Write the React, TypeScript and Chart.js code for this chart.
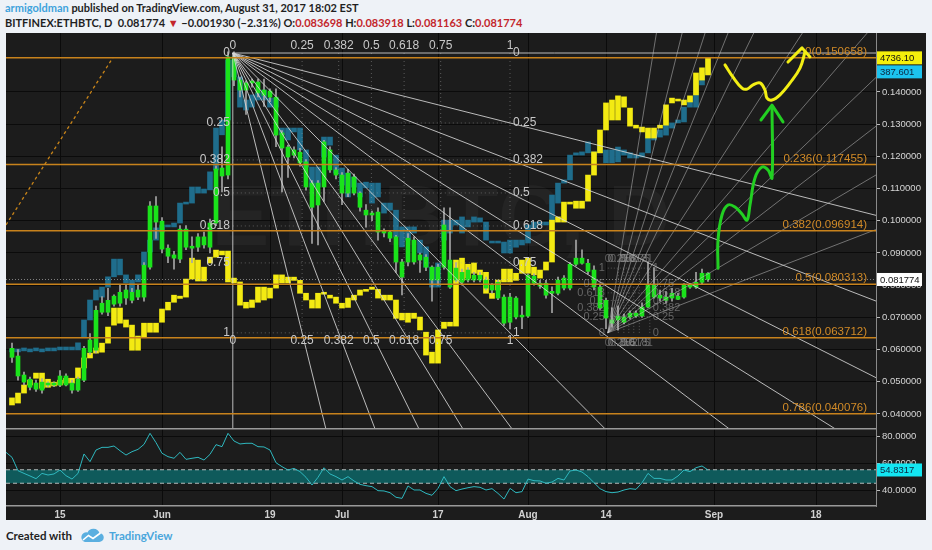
import React, { useEffect, useRef } from 'react';
import { Chart, registerables } from 'chart.js';
Chart.register(...registerables);

const FONT = '"Liberation Sans", Arial, sans-serif';

// ---- x axis: day index, 0 = May 7 2017 (daily candles up to Aug 31 = 116)
const xMin = -1;
const xMax = 144;
const xTickDays = [8, 25, 43, 55, 71, 86, 99, 117, 134];
const xTickLabels = ['15', 'Jun', '19', 'Jul', '17', 'Aug', '14', 'Sep', '18'];

// ---- price axis
const priceMin = 0.03565;
const priceMax = 0.15832;
const priceTicks = [0.04, 0.05, 0.06, 0.07, 0.08, 0.09, 0.1, 0.11, 0.12, 0.13, 0.14];

// ---- ETHBTC candles (green)
const ethbtcBodyHi = [
  0.0604, 0.0580, 0.0521, 0.0508, 0.0496, 0.0499, 0.0496, 0.0496, 0.0518, 0.0518,
  0.0496, 0.0508, 0.0604, 0.0630, 0.0722, 0.0744, 0.0753, 0.0766, 0.0778, 0.0785,
  0.0778, 0.0785, 0.0862, 0.1046, 0.1046, 0.0999, 0.0915, 0.0894, 0.0974, 0.0974,
  0.0921, 0.0950, 0.0950, 0.0993, 0.1161, 0.1164, 0.1509, 0.1509, 0.1437, 0.1428,
  0.1434, 0.1431, 0.1406, 0.1403, 0.1384, 0.1273, 0.1229, 0.1220, 0.1213, 0.1183,
  0.1117, 0.1117, 0.1245, 0.1220, 0.1158, 0.1142, 0.1148, 0.1136, 0.1086, 0.1033,
  0.1024, 0.1027, 0.0968, 0.0965, 0.0950, 0.0872, 0.0946, 0.0940, 0.0894, 0.0887,
  0.0856, 0.0856, 0.0987, 0.0878, 0.0853, 0.0840, 0.0847, 0.0831, 0.0831, 0.0816,
  0.0800, 0.0809, 0.0763, 0.0763, 0.0760, 0.0707, 0.0831, 0.0828, 0.0806, 0.0806,
  0.0781, 0.0816, 0.0822, 0.0865, 0.0884, 0.0884, 0.0868, 0.0847, 0.0794, 0.0753,
  0.0692, 0.0704, 0.0701, 0.0713, 0.0713, 0.0732, 0.0800, 0.0800, 0.0769, 0.0763,
  0.0775, 0.0766, 0.0800, 0.0800, 0.0809, 0.0837, 0.083698,
];
const ethbtcBodyLo = [
  0.0576, 0.0518, 0.0499, 0.0483, 0.0477, 0.0474, 0.0490, 0.0490, 0.0490, 0.0490,
  0.0474, 0.0474, 0.0505, 0.0592, 0.0598, 0.0716, 0.0716, 0.0741, 0.0744, 0.0760,
  0.0753, 0.0763, 0.0763, 0.0856, 0.0996, 0.0912, 0.0890, 0.0884, 0.0881, 0.0918,
  0.0915, 0.0918, 0.0925, 0.0918, 0.0993, 0.1139, 0.1142, 0.1437, 0.1406, 0.1406,
  0.1428, 0.1397, 0.1390, 0.1384, 0.1266, 0.1226, 0.1198, 0.1204, 0.1180, 0.1105,
  0.1042, 0.1049, 0.1105, 0.1158, 0.1142, 0.1086, 0.1086, 0.1086, 0.1042, 0.1018,
  0.1018, 0.0965, 0.0962, 0.0946, 0.0872, 0.0825, 0.0872, 0.0872, 0.0878, 0.0856,
  0.0816, 0.0816, 0.0856, 0.0794, 0.0816, 0.0809, 0.0816, 0.0816, 0.0816, 0.0791,
  0.0785, 0.0760, 0.0682, 0.0685, 0.0701, 0.0701, 0.0704, 0.0806, 0.0797, 0.0769,
  0.0775, 0.0775, 0.0791, 0.0791, 0.0865, 0.0868, 0.0843, 0.0794, 0.0729, 0.0698,
  0.0682, 0.0692, 0.0685, 0.0701, 0.0704, 0.0704, 0.0732, 0.0763, 0.0760, 0.0753,
  0.0760, 0.0756, 0.0763, 0.0794, 0.0794, 0.0809, 0.081774,
];
const ethbtcHigh = [
  0.0620, 0.0600, 0.0530, 0.0515, 0.0505, 0.0510, 0.0500, 0.0500, 0.0535, 0.0525,
  0.0505, 0.0515, 0.0610, 0.0650, 0.0735, 0.0765, 0.0790, 0.0770, 0.0800, 0.0800,
  0.0790, 0.0800, 0.0870, 0.1060, 0.1075, 0.1010, 0.0925, 0.0905, 0.0985, 0.0985,
  0.0950, 0.0960, 0.0965, 0.1005, 0.1170, 0.1230, 0.1525, 0.1525, 0.1445, 0.1435,
  0.1440, 0.1440, 0.1440, 0.1410, 0.1410, 0.1280, 0.1235, 0.1230, 0.1225, 0.1190,
  0.1125, 0.1125, 0.1250, 0.1230, 0.1165, 0.1150, 0.1160, 0.1145, 0.1090, 0.1050,
  0.1030, 0.1040, 0.0975, 0.0970, 0.0955, 0.0880, 0.0960, 0.0950, 0.0900, 0.0895,
  0.0860, 0.0865, 0.1040, 0.1040, 0.0870, 0.0850, 0.0855, 0.0840, 0.0840, 0.0825,
  0.0805, 0.0815, 0.0770, 0.0775, 0.0765, 0.0735, 0.0835, 0.0835, 0.0815, 0.0815,
  0.0795, 0.0825, 0.0830, 0.0870, 0.0940, 0.0910, 0.0880, 0.0860, 0.0800, 0.0760,
  0.0730, 0.0735, 0.0710, 0.0720, 0.0720, 0.0745, 0.0870, 0.0855, 0.0785, 0.0780,
  0.0790, 0.0775, 0.0805, 0.0805, 0.0840, 0.0850, 0.083918,
];
const ethbtcLow = [
  0.0560, 0.0505, 0.0490, 0.0475, 0.0470, 0.0465, 0.0485, 0.0485, 0.0485, 0.0487,
  0.0465, 0.0470, 0.0500, 0.0585, 0.0590, 0.0710, 0.0705, 0.0735, 0.0735, 0.0740,
  0.0745, 0.0755, 0.0750, 0.0850, 0.0945, 0.0900, 0.0870, 0.0850, 0.0870, 0.0910,
  0.0870, 0.0905, 0.0915, 0.0900, 0.0985, 0.1090, 0.1130, 0.1420, 0.1385, 0.1330,
  0.1415, 0.1385, 0.1355, 0.1370, 0.1230, 0.1090, 0.1135, 0.1195, 0.1170, 0.1095,
  0.0930, 0.0925, 0.1060, 0.1150, 0.1130, 0.1050, 0.1075, 0.1080, 0.1030, 0.0980,
  0.1000, 0.0940, 0.0950, 0.0935, 0.0840, 0.0770, 0.0860, 0.0865, 0.0840, 0.0845,
  0.0750, 0.0800, 0.0850, 0.0790, 0.0810, 0.0800, 0.0810, 0.0810, 0.0810, 0.0785,
  0.0775, 0.0755, 0.0675, 0.0665, 0.0695, 0.0665, 0.0700, 0.0800, 0.0790, 0.0760,
  0.0715, 0.0770, 0.0785, 0.0785, 0.0860, 0.0865, 0.0835, 0.0785, 0.0725, 0.0665,
  0.0670, 0.0660, 0.0680, 0.0695, 0.0700, 0.0700, 0.0730, 0.0760, 0.0750, 0.0745,
  0.0750, 0.0755, 0.0760, 0.0790, 0.0790, 0.0805, 0.081163,
];

// ---- ETHUSD overlay (teal), in the price axis units
const ethusdBodyHi = [
  0.0602, 0.0602, 0.0605, 0.0602, 0.0605, 0.0602, 0.0605, 0.0605, 0.0608, 0.0608,
  0.0608, 0.0621, 0.0692, 0.0754, 0.0785, 0.0794, 0.0826, 0.0881, 0.0881, 0.0832,
  0.0816, 0.0832, 0.0903, 0.0940, 0.0978, 0.0987, 0.0987, 0.0993, 0.1055, 0.1058,
  0.1105, 0.1105, 0.1099, 0.1152, 0.1288, 0.1313, 0.1499, 0.1499, 0.1447, 0.1375,
  0.1391, 0.1397, 0.1406, 0.1381, 0.1381, 0.1288, 0.1288, 0.1288, 0.1288, 0.1220,
  0.1167, 0.1167, 0.1260, 0.1260, 0.1204, 0.1164, 0.1148, 0.1136, 0.1117, 0.1120,
  0.1117, 0.1117, 0.1055, 0.1055, 0.1033, 0.0981, 0.0981, 0.0981, 0.0940, 0.0919,
  0.0856, 0.0869, 0.1002, 0.1002, 0.1002, 0.1012, 0.1002, 0.1012, 0.1009, 0.0996,
  0.0937, 0.0937, 0.0934, 0.0940, 0.0940, 0.0940, 0.0987, 0.0996, 0.0996, 0.0996,
  0.1080, 0.1117, 0.1127, 0.1204, 0.1211, 0.1214, 0.1245, 0.1214, 0.1235, 0.1220,
  0.1220, 0.1229, 0.1220, 0.1211, 0.1204, 0.1211, 0.1273, 0.1282, 0.1282, 0.1297,
  0.1304, 0.1313, 0.1353, 0.1384, 0.1437, 0.1459, 0.1475,
];
const ethusdBodyLo = [
  0.0593, 0.0593, 0.0596, 0.0593, 0.0596, 0.0593, 0.0596, 0.0596, 0.0599, 0.0599,
  0.0599, 0.0599, 0.0639, 0.0692, 0.0754, 0.0763, 0.0794, 0.0826, 0.0832, 0.0807,
  0.0779, 0.0810, 0.0863, 0.0903, 0.0940, 0.0965, 0.0981, 0.0981, 0.0993, 0.1052,
  0.1055, 0.1086, 0.1086, 0.1096, 0.1158, 0.1267, 0.1313, 0.1447, 0.1353, 0.1344,
  0.1353, 0.1375, 0.1375, 0.1353, 0.1353, 0.1267, 0.1251, 0.1276, 0.1220, 0.1167,
  0.1105, 0.1105, 0.1198, 0.1235, 0.1148, 0.1111, 0.1074, 0.1105, 0.1074, 0.1102,
  0.1055, 0.1074, 0.1024, 0.1033, 0.0950, 0.0919, 0.0940, 0.0962, 0.0900, 0.0856,
  0.0794, 0.0794, 0.0940, 0.0962, 0.0987, 0.0962, 0.0981, 0.0996, 0.0996, 0.0940,
  0.0931, 0.0931, 0.0900, 0.0900, 0.0918, 0.0925, 0.0931, 0.0978, 0.0987, 0.0987,
  0.0996, 0.1055, 0.1117, 0.1127, 0.1204, 0.1204, 0.1211, 0.1204, 0.1211, 0.1180,
  0.1180, 0.1183, 0.1204, 0.1195, 0.1195, 0.1198, 0.1211, 0.1251, 0.1260, 0.1266,
  0.1288, 0.1304, 0.1307, 0.1353, 0.1353, 0.1422, 0.1459,
];

// ---- BTCUSD overlay (yellow), in the price axis units
const btcusdBodyHi = [
  0.0450, 0.0465, 0.0490, 0.0505, 0.0527, 0.0527, 0.0508, 0.0499, 0.0505, 0.0511,
  0.0511, 0.0543, 0.0574, 0.0589, 0.0605, 0.0620, 0.0670, 0.0729, 0.0729, 0.0692,
  0.0676, 0.0642, 0.0682, 0.0682, 0.0682, 0.0726, 0.0747, 0.0769, 0.0766, 0.0819,
  0.0884, 0.0878, 0.0856, 0.0887, 0.0909, 0.0906, 0.0906, 0.0822, 0.0810, 0.0747,
  0.0754, 0.0794, 0.0794, 0.0791, 0.0832, 0.0832, 0.0825, 0.0825, 0.0815, 0.0775,
  0.0754, 0.0775, 0.0778, 0.0769, 0.0763, 0.0744, 0.0760, 0.0769, 0.0785, 0.0787,
  0.0794, 0.0787, 0.0769, 0.0769, 0.0754, 0.0713, 0.0713, 0.0713, 0.0701, 0.0654,
  0.0592, 0.0661, 0.0685, 0.0685, 0.0878, 0.0884, 0.0865, 0.0869, 0.0847, 0.0840,
  0.0775, 0.0816, 0.0850, 0.0850, 0.0837, 0.0878, 0.0884, 0.0856, 0.0847, 0.0872,
  0.1002, 0.1012, 0.1058, 0.1058, 0.1061, 0.1061, 0.1142, 0.1214, 0.1282, 0.1366,
  0.1375, 0.1388, 0.1385, 0.1350, 0.1297, 0.1291, 0.1288, 0.1288, 0.1297, 0.1360,
  0.1381, 0.1378, 0.1375, 0.1388, 0.1459, 0.1475, 0.1506,
];
const btcusdBodyLo = [
  0.0428, 0.0434, 0.0465, 0.0490, 0.0511, 0.0480, 0.0483, 0.0487, 0.0490, 0.0496,
  0.0496, 0.0511, 0.0543, 0.0574, 0.0589, 0.0592, 0.0620, 0.0676, 0.0682, 0.0670,
  0.0598, 0.0598, 0.0639, 0.0654, 0.0654, 0.0685, 0.0723, 0.0747, 0.0759, 0.0763,
  0.0819, 0.0813, 0.0813, 0.0869, 0.0887, 0.0894, 0.0810, 0.0807, 0.0738, 0.0729,
  0.0731, 0.0747, 0.0754, 0.0760, 0.0791, 0.0807, 0.0807, 0.0815, 0.0775, 0.0754,
  0.0729, 0.0729, 0.0772, 0.0760, 0.0744, 0.0729, 0.0731, 0.0754, 0.0769, 0.0781,
  0.0787, 0.0760, 0.0754, 0.0754, 0.0697, 0.0692, 0.0685, 0.0697, 0.0661, 0.0583,
  0.0558, 0.0558, 0.0666, 0.0673, 0.0673, 0.0815, 0.0822, 0.0837, 0.0832, 0.0775,
  0.0759, 0.0785, 0.0810, 0.0810, 0.0815, 0.0837, 0.0837, 0.0832, 0.0822, 0.0847,
  0.0872, 0.0996, 0.0996, 0.1052, 0.1039, 0.1039, 0.1061, 0.1142, 0.1211, 0.1282,
  0.1313, 0.1313, 0.1353, 0.1294, 0.1288, 0.1276, 0.1257, 0.1257, 0.1288, 0.1297,
  0.1366, 0.1372, 0.1360, 0.1369, 0.1391, 0.1437, 0.1453,
];

// ---- RSI (starts at day -1)
const rsiStartDay = -1;
const rsiValues = [
  67.9,
  64.2, 54.3, 52.3, 50.4, 48.4, 52.3, 51.1, 51.9, 54.8, 50.6,
  48.1, 52.3, 66.7, 61.0, 69.6, 71.6, 71.6, 72.6, 69.1, 65.9,
  68.4, 70.1, 73.8, 82.0, 75.1, 67.2, 64.7, 63.5, 67.9, 62.7,
  63.5, 64.2, 62.2, 66.4, 73.6, 72.1, 82.0, 76.3, 74.1, 74.6,
  74.6, 72.1, 71.9, 69.6, 60.2, 57.3, 54.8, 56.0, 53.6, 49.4,
  43.7, 49.4, 56.5, 51.9, 49.9, 47.4, 49.9, 46.7, 44.2, 43.2,
  42.5, 39.5, 39.3, 38.0, 34.6, 33.8, 43.0, 40.0, 40.0, 37.5,
  36.1, 41.2, 49.9, 42.5, 39.5, 40.7, 41.7, 42.5, 42.0, 40.0,
  41.0, 37.5, 33.3, 41.2, 38.0, 38.8, 48.1, 46.9, 46.7, 45.0,
  45.9, 48.6, 47.4, 54.1, 54.8, 53.3, 49.9, 45.4, 41.0, 38.8,
  38.0, 38.5, 40.0, 41.0, 40.5, 45.4, 52.3, 48.6, 48.6, 47.4,
  47.4, 50.4, 54.8, 53.6, 56.5, 57.8, 54.8317,
];
const rsiMin = 28.15;
const rsiMax = 85.93;
const rsiTicks = [40, 60, 80];
const rsiBand = [45, 55];

// ---- Fibonacci retracement
const fibRatios = ['0', '0.236', '0.382', '0.5', '0.618', '0.786'];
const fibPrices = [0.150658, 0.117455, 0.096914, 0.080313, 0.063712, 0.040076];
const fibTrendDays = [-1, 16.8];
const fibTrendPrices = [0.0987, 0.1506];

// ---- Gann fans
const gannLevels = [0.25, 0.382, 0.5, 0.618, 0.75];
const gannLabels = ['0', '0.25', '0.382', '0.5', '0.618', '0.75', '1'];
const bigFanDays = [36.8, 83];
const bigFanPrices = [0.1521, 0.0652];
const smallFanDays = [99.3, 106.3];
const smallFanPrices = [0.0652, 0.0853];

// ---- hand-drawn arrows
const greenArrowDays = [117.67, 117.67, 118.33, 119.33, 120.5, 121.67, 122.5, 123, 123.83, 125, 126, 126.67, 126.67];
const greenArrowPrices = [0.0853, 0.094, 0.1018, 0.1049, 0.1043, 0.1021, 0.1002, 0.1049, 0.1133, 0.1167, 0.1158, 0.1133, 0.1353];
const greenHeadDays = [124.83, 126.67, 128.5];
const greenHeadPrices = [0.1313, 0.1359, 0.1307];
const yellowArrowDays = [118.83, 120.17, 121.67, 122.5, 123.5, 124.67, 125.5, 125.83, 126.67, 128, 129.67, 131.33, 132.17];
const yellowArrowPrices = [0.1484, 0.1446, 0.1412, 0.1409, 0.1422, 0.1428, 0.1406, 0.1381, 0.1375, 0.1391, 0.1428, 0.1474, 0.1524];
const yellowHeadDays = [129.33, 131.67, 133];
const yellowHeadPrices = [0.1493, 0.1537, 0.1509];

// ---- last value labels
const lastClose = 0.081774;
const btcusdLastText = '4736.10';
const ethusdLastText = '387.601';

const bars = (hi: number[], lo: number[]) => hi.map((h, i) => ({ x: i, y: [lo[i], h] }));
const pts = (xs: number[], ys: number[]) => xs.map((x, i) => ({ x, y: ys[i] }));

function seg(ctx: CanvasRenderingContext2D, x1: number, y1: number, x2: number, y2: number) {
  ctx.beginPath();
  ctx.moveTo(x1, y1);
  ctx.lineTo(x2, y2);
  ctx.stroke();
}

function drawBoxes(ctx: CanvasRenderingContext2D, left: number, items: any[]) {
  const h = 13;
  let prevBottom = -1e9;
  items.sort((a, b) => a.y - b.y).forEach((it) => {
    const top = Math.max(it.y - h / 2, prevBottom + 1);
    ctx.fillStyle = it.bg;
    ctx.fillRect(left + 1, top, 45, h);
    ctx.fillStyle = it.fg;
    ctx.font = `9.5px ${FONT}`;
    ctx.textAlign = 'left';
    ctx.textBaseline = 'middle';
    ctx.fillText(it.text, left + 4, top + h / 2 + 0.5);
    prevBottom = top + h;
  });
}

function drawAnnotations(chart: any) {
  const { ctx, chartArea: a } = chart;
  const X = (d: number) => chart.scales.x.getPixelForValue(d);
  const Y = (p: number) => chart.scales.y.getPixelForValue(p);
  ctx.save();
  ctx.beginPath();
  ctx.rect(a.left, a.top, a.right - a.left, a.bottom - a.top);
  ctx.clip();

  // last price dotted line
  ctx.lineWidth = 1;
  ctx.setLineDash([1, 2]);
  ctx.strokeStyle = 'rgba(200,200,200,0.6)';
  seg(ctx, a.left, Y(lastClose), a.right, Y(lastClose));

  // big gann fan
  const ox = X(bigFanDays[0]), oy = Y(bigFanPrices[0]);
  const ex = X(bigFanDays[1]), ey = Y(bigFanPrices[1]);
  const all = [...gannLevels, 1];
  ctx.setLineDash([1, 3]);
  ctx.strokeStyle = 'rgba(170,170,170,0.45)';
  all.forEach((f) => {
    const yy = oy + f * (ey - oy);
    seg(ctx, ox, yy, ex, yy);
    const xx = ox + f * (ex - ox);
    seg(ctx, xx, oy, xx, ey);
  });
  ctx.setLineDash([]);
  ctx.strokeStyle = 'rgba(215,215,215,0.85)';
  seg(ctx, ox, oy, ox, a.bottom);
  seg(ctx, ox, oy, a.right, oy);
  const fan = (sx: number, sy: number, tx: number, ty: number) =>
    seg(ctx, sx, sy, sx + (tx - sx) * 40, sy + (ty - sy) * 40);
  gannLevels.forEach((f) => {
    fan(ox, oy, ex, oy + f * (ey - oy));
    fan(ox, oy, ox + f * (ex - ox), ey);
  });
  fan(ox, oy, ex, ey);

  // small gann fan
  const sx = X(smallFanDays[0]), sy = Y(smallFanPrices[0]);
  const tx = X(smallFanDays[1]), ty = Y(smallFanPrices[1]);
  ctx.setLineDash([1, 2]);
  ctx.strokeStyle = 'rgba(160,160,160,0.45)';
  all.forEach((f) => {
    const yy = sy + f * (ty - sy);
    seg(ctx, sx, yy, tx, yy);
    const xx = sx + f * (tx - sx);
    seg(ctx, xx, sy, xx, ty);
  });
  ctx.setLineDash([]);
  ctx.strokeStyle = 'rgba(200,200,200,0.5)';
  gannLevels.forEach((f) => {
    fan(sx, sy, tx, sy + f * (ty - sy));
    fan(sx, sy, sx + f * (tx - sx), ty);
  });
  fan(sx, sy, tx, ty);

  // fib trend line (dotted)
  ctx.setLineDash([3, 3]);
  ctx.lineWidth = 1.3;
  ctx.strokeStyle = '#c98519';
  seg(ctx, X(fibTrendDays[0]), Y(fibTrendPrices[0]), X(fibTrendDays[1]), Y(fibTrendPrices[1]));

  // fib levels
  ctx.setLineDash([]);
  ctx.lineWidth = 1.5;
  ctx.strokeStyle = '#c8821c';
  fibPrices.forEach((p) => seg(ctx, a.left, Y(p), a.right, Y(p)));
  ctx.font = `11.5px ${FONT}`;
  ctx.fillStyle = '#d28b27';
  ctx.textAlign = 'right';
  ctx.textBaseline = 'alphabetic';
  fibPrices.forEach((p, i) => {
    ctx.fillText(`${fibRatios[i]}(${p.toFixed(6)})`, a.right - 9, Y(p) - 3);
  });

  // big gann labels
  ctx.font = `12px ${FONT}`;
  ctx.fillStyle = '#c9c9c9';
  ctx.textBaseline = 'middle';
  const lv = [0, ...gannLevels, 1];
  lv.forEach((f, i) => {
    const xx = ox + f * (ex - ox);
    const yy = oy + f * (ey - oy);
    ctx.textAlign = 'center';
    ctx.fillText(gannLabels[i], xx, oy - 7);
    ctx.fillText(gannLabels[i], xx, ey + 8);
    ctx.textAlign = 'right';
    ctx.fillText(gannLabels[i], ox - 3, yy);
    ctx.textAlign = 'left';
    ctx.fillText(gannLabels[i], ex + 3, yy);
  });

  // small gann labels (faint)
  ctx.font = `11px ${FONT}`;
  ctx.fillStyle = 'rgba(150,150,150,0.6)';
  lv.forEach((f, i) => {
    const xx = sx + f * (tx - sx);
    const yy = sy + f * (ty - sy);
    ctx.textAlign = 'center';
    ctx.fillText(gannLabels[i], xx, ty - 9);
    ctx.fillText(gannLabels[i], xx, sy + 10);
    ctx.textAlign = 'right';
    ctx.fillText(gannLabels[i], sx - 3, yy);
    ctx.textAlign = 'left';
    ctx.fillText(gannLabels[i], tx + 3, yy);
  });

  ctx.restore();
}

const mainOverlay = {
  id: 'mainOverlay',
  beforeDraw(chart: any) {
    chart.$annotated = false;
  },
  beforeDatasetsDraw(chart: any) {
    const { ctx, chartArea: a } = chart;
    ctx.save();
    ctx.fillStyle = 'rgba(255,255,255,0.035)';
    ctx.font = `bold 86px ${FONT}`;
    ctx.textAlign = 'center';
    ctx.textBaseline = 'middle';
    ctx.fillText('ETHBTC, D', (a.left + a.right) / 2, chart.scales.y.getPixelForValue(0.1));
    ctx.restore();
  },
  beforeDatasetDraw(chart: any, args: any) {
    const ds = chart.data.datasets[args.index];
    if (ds.isArrow && !chart.$annotated) {
      chart.$annotated = true;
      drawAnnotations(chart);
    }
  },
  afterDraw(chart: any) {
    const ys = chart.scales.y;
    const ctx = chart.ctx;
    ctx.save();
    drawBoxes(ctx, ys.left, [
      { y: ys.getPixelForValue(btcusdBodyHi[btcusdBodyHi.length - 1]), text: btcusdLastText, bg: '#f4ef0c', fg: '#111' },
      { y: ys.getPixelForValue(ethusdBodyHi[ethusdBodyHi.length - 1]), text: ethusdLastText, bg: '#1cc3ef', fg: '#0b2740' },
    ]);
    drawBoxes(ctx, ys.left, [
      { y: ys.getPixelForValue(lastClose), text: lastClose.toFixed(6), bg: '#ffffff', fg: '#111' },
    ]);
    ctx.restore();
  },
};

const rsiOverlay = {
  id: 'rsiOverlay',
  beforeDatasetsDraw(chart: any) {
    const { ctx, chartArea: a } = chart;
    const ys = chart.scales.y;
    const yHi = ys.getPixelForValue(rsiBand[1]);
    const yLo = ys.getPixelForValue(rsiBand[0]);
    ctx.save();
    ctx.fillStyle = '#0f5a5b';
    ctx.fillRect(a.left, yHi, a.right - a.left, yLo - yHi);
    ctx.strokeStyle = 'rgba(210,210,210,0.85)';
    ctx.lineWidth = 1;
    ctx.setLineDash([4, 3]);
    seg(ctx, a.left, yHi, a.right, yHi);
    seg(ctx, a.left, yLo, a.right, yLo);
    ctx.restore();
  },
  afterDraw(chart: any) {
    const { ctx, chartArea: a } = chart;
    const ys = chart.scales.y;
    ctx.save();
    ctx.strokeStyle = '#9a9a9a';
    ctx.lineWidth = 1.5;
    seg(ctx, a.left, 0.75, a.right, 0.75);
    const last = rsiValues[rsiValues.length - 1];
    drawBoxes(ctx, ys.left, [{ y: ys.getPixelForValue(last), text: last.toFixed(4), bg: '#13e6f2', fg: '#0b2740' }]);
    ctx.restore();
  },
};

const xScaleBase = (showLabels: boolean) => ({
  type: 'linear',
  min: xMin,
  max: xMax,
  offset: false,
  bounds: 'data',
  afterBuildTicks: (s: any) => {
    s.ticks = xTickDays.map((v) => ({ value: v }));
  },
  ticks: {
    display: showLabels,
    autoSkip: false,
    maxRotation: 0,
    color: '#d2d2d2',
    padding: 3,
    font: { family: FONT, size: 10, weight: 'bold' },
    callback: (_v: any, i: number) => xTickLabels[i],
  },
  grid: { color: '#0b0b0b', drawTicks: false, offset: false, lineWidth: 1 },
  border: { display: showLabels, color: '#9a9a9a', width: 1.5 },
  afterFit: (s: any) => {
    s.height = showLabels ? 14 : 0;
    s.paddingLeft = 0;
    s.paddingRight = 0;
  },
});

const yScaleBase = (min: number, max: number, ticks: number[], digits: number) => ({
  type: 'linear',
  position: 'right',
  min,
  max,
  bounds: 'data',
  afterBuildTicks: (s: any) => {
    s.ticks = ticks.map((v) => ({ value: v }));
  },
  ticks: {
    color: '#d6d6d6',
    padding: 2,
    font: { family: FONT, size: 9.5 },
    callback: (v: any) => Number(v).toFixed(digits),
  },
  grid: { color: '#0b0b0b', tickColor: '#bbbbbb', tickLength: 4, lineWidth: 1 },
  border: { display: true, color: '#8a8a8a', width: 1 },
  afterFit: (s: any) => {
    s.width = 50;
    s.paddingTop = 0;
    s.paddingBottom = 0;
  },
});

export default function App() {
  const mainRef = useRef<HTMLCanvasElement>(null);
  const rsiRef = useRef<HTMLCanvasElement>(null);

  useEffect(() => {
    const arrowLine = (data: any[], color: string, tension: number) => ({
      type: 'line',
      data,
      borderColor: color,
      borderWidth: 3,
      tension,
      pointRadius: 0,
      borderCapStyle: 'round',
      borderJoinStyle: 'round',
      order: 1,
      isArrow: true,
    });
    const main = new Chart(mainRef.current as HTMLCanvasElement, {
      type: 'bar',
      data: {
        datasets: [
          { type: 'bar', label: 'ETHUSD', data: bars(ethusdBodyHi, ethusdBodyLo), backgroundColor: '#1f6d8c', barThickness: 5, grouped: false, minBarLength: 1, order: 10 },
          { type: 'bar', label: 'BTCUSD', data: bars(btcusdBodyHi, btcusdBodyLo), backgroundColor: '#f3ea12', barThickness: 5, grouped: false, minBarLength: 1, order: 9 },
          { type: 'bar', label: 'ETHBTC wick', data: bars(ethbtcHigh, ethbtcLow), backgroundColor: '#a6a6a6', barThickness: 1, grouped: false, order: 8 },
          { type: 'bar', label: 'ETHBTC', data: bars(ethbtcBodyHi, ethbtcBodyLo), backgroundColor: '#1ae31a', barThickness: 4, grouped: false, minBarLength: 1, order: 7 },
          arrowLine(pts(greenArrowDays, greenArrowPrices), '#22cf22', 0.4),
          arrowLine(pts(greenHeadDays, greenHeadPrices), '#22cf22', 0),
          arrowLine(pts(yellowArrowDays, yellowArrowPrices), '#f2ee14', 0.4),
          arrowLine(pts(yellowHeadDays, yellowHeadPrices), '#f2ee14', 0),
        ] as any,
      },
      options: {
        animation: false,
        responsive: false,
        layout: { padding: 0 },
        plugins: { legend: { display: false }, tooltip: { enabled: false } },
        scales: {
          x: xScaleBase(false) as any,
          y: yScaleBase(priceMin, priceMax, priceTicks, 6) as any,
        },
      },
      plugins: [mainOverlay as any],
    });

    const rsi = new Chart(rsiRef.current as HTMLCanvasElement, {
      type: 'line',
      data: {
        datasets: [
          {
            data: rsiValues.map((v, i) => ({ x: rsiStartDay + i, y: v })),
            borderColor: '#2fb8bf',
            borderWidth: 1,
            pointRadius: 0,
            tension: 0,
          },
        ],
      },
      options: {
        animation: false,
        responsive: false,
        layout: { padding: 0 },
        plugins: { legend: { display: false }, tooltip: { enabled: false } },
        scales: {
          x: xScaleBase(true) as any,
          y: yScaleBase(rsiMin, rsiMax, rsiTicks, 4) as any,
        },
      },
      plugins: [rsiOverlay as any],
    });

    return () => {
      main.destroy();
      rsi.destroy();
    };
  }, []);

  const red = { color: '#c3262c' };
  const headFont = 'Lato, "Open Sans", "Noto Sans", sans-serif';

  return (
    <div style={{ position: 'fixed', left: 0, top: 0, width: 932, height: 550, background: '#eef2f7', overflow: 'hidden' }}>
      <div style={{ position: 'absolute', left: 5, top: 0, fontFamily: headFont, fontSize: 11, fontWeight: 700, color: '#1f1f1f', lineHeight: '16px', whiteSpace: 'nowrap' }}>
        <span style={{ color: '#3fa3dc' }}>armigoldman</span> published on TradingView.com, August 31, 2017 18:02 EST
      </div>
      <div style={{ position: 'absolute', left: 5, top: 15, fontFamily: headFont, fontSize: 11, fontWeight: 700, color: '#1f1f1f', lineHeight: '16px', whiteSpace: 'nowrap' }}>
        BITFINEX:ETHBTC, D&nbsp; 0.081774 <span style={red}>▼</span> −0.001930 (−2.31%) O:<span style={red}>0.083698</span> H:<span style={red}>0.083918</span> L:<span style={red}>0.081163</span> C:<span style={red}>0.081774</span>
      </div>
      <div style={{ position: 'absolute', left: 6, top: 33, width: 920, height: 487, background: '#1c1c1c' }}>
        <canvas ref={mainRef} width={920} height={395} style={{ position: 'absolute', left: 0, top: 0 }} />
        <canvas ref={rsiRef} width={920} height={92} style={{ position: 'absolute', left: 0, top: 395 }} />
      </div>
      <div style={{ position: 'absolute', left: 6, top: 528, display: 'flex', alignItems: 'center', fontFamily: headFont, fontSize: 11.5, whiteSpace: 'nowrap' }}>
        <span style={{ fontWeight: 700, color: '#1f1f1f' }}>Created with</span>
        <svg width="24" height="15" viewBox="0 0 24 15" style={{ marginLeft: 8, marginRight: 5 }}>
          <path d="M5 14 H19 A4.5 4.5 0 0 0 19.5 5 A6.5 6.5 0 0 0 7.5 4.5 A4.8 4.8 0 0 0 5 14 Z" fill="#5aafe0" />
          <path d="M3 12 L8.5 7.5 L13 10.5 L20.5 5" stroke="#ffffff" strokeWidth="1.6" fill="none" />
        </svg>
        <span style={{ color: '#4aa6dc', fontWeight: 700 }}>TradingView</span>
      </div>
    </div>
  );
}
